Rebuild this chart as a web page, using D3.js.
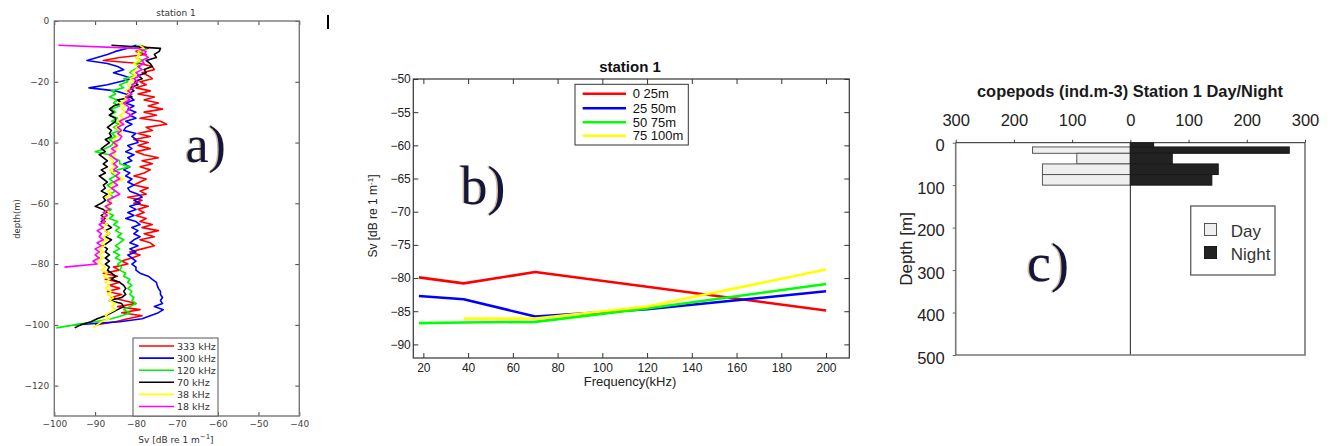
<!DOCTYPE html>
<html>
<head>
<meta charset="utf-8">
<script src="https://cdn.jsdelivr.net/npm/d3@7"></script>
<style>
  body { margin: 0; background: #fff; }
  svg { display: block; }
</style>
</head>
<body>
<svg id="fig" width="1332" height="446"></svg>
<script>
// ---------- a) Sv profiles by frequency (station 1) ----------
const depthA = [-8,-9,-10,-11,-12,-13,-14,-15,-16,-17,
  -18,-19,-20,-21,-22,-23,-24,-25,-26,-27,
  -28,-29,-30,-31,-32,-33,-34,-35,-36,-37,
  -38,-39,-40,-41,-42,-43,-44,-45,-46,-47,
  -48,-49,-50,-51,-52,-53,-54,-55,-56,-57,
  -58,-59,-60,-61,-62,-63,-64,-65,-66,-67,
  -68,-69,-70,-71,-72,-73,-74,-75,-76,-77,
  -78,-79,-80,-81,-82,-83,-84,-85,-86,-87,
  -88,-89,-90,-91,-92,-93,-94,-95,-96,-97,
  -98,-99,-100,-101];

const sv333 = [-79,-77,-80,-77.5,-84,-88,-79,-76,-75.5,-78.5,
  -77,-76,-79,-77.5,-80,-76.5,-79.5,-75.5,-78,-74.5,
  -77,-73.5,-78,-75,-79,-74,-72.5,-77.5,-76,-79.5,
  -76.5,-80.5,-77,-79.5,-76.5,-80,-78,-74.5,-78.5,-76,
  -79,-76.5,-78,-80.5,-77.5,-79,-80.5,-77,-79,-77.5,
  -82,-78.5,-80.5,-77,-79.5,-78,-80,-77.5,-79,-76,
  -78.5,-74.5,-78,-75.5,-79,-76.5,-75.5,-78.5,-81.5,-79,
  -81,-83.5,-82,-85.5,-84,-88,-84.5,-87.5,-84,-86.5,
  -84,-87,-83.5,-86,-83,-80,-84.5,-79,-83.5,-78.5,
  -82,-85,-90,null];

const sv300 = [-80,-82,-85,-87,-89.5,-92,-87,-84.5,-83,-85.5,
  -83,-81,-84,-87,-91.5,-85,-82.5,-81.5,-80.5,-82.5,
  -80.5,-82,-80,-81.5,-80,-82.5,-81,-82.5,-83,-80,
  -81,-80,-79.5,-82,-81,-82.5,-80.5,-82,-81,-83,
  -81.5,-83,-81.5,-82.5,-81,-82,-80.5,-82,-81.5,-79.5,
  -78.5,-80.5,-79,-81.5,-80,-82,-80.5,-82.5,-80,-79,
  -81,-79.5,-80.5,-79,-80.5,-81.5,-79.5,-81.5,-80,-82,
  -81,-80,-81,-80,-80,-79,-77,-76,-75,-74.8,
  -74.5,-74,-74,-73.5,-74,-73.5,-75.5,-73.3,-74.5,-76.5,
  -78.5,-84,-95,null];

const sv120 = [-80,-77.5,-78.5,-79,-80,-78.5,-80,-79,-80.5,-81.5,
  -80,-83,-82,-84,-83,-86,-85,-86.5,-84.5,-85.5,
  -84,-86,-85,-86.5,-84.5,-86,-84,-85.5,-84,-86,
  -85,-86.5,-85.5,-86,-87.5,-90,-86.5,-85.5,-84,-84,
  -81.5,-84.5,-86,-85,-86.5,-85.5,-87,-86,-85,-86.5,
  -85.5,-87,-86,-87.5,-86,-87,-85.5,-86.5,-84.5,-85.5,
  -84,-85,-83.5,-84.5,-83,-84,-85,-84,-85.5,-84,
  -85,-83.5,-84.5,-83.5,-84,-82.5,-83,-81.5,-82,-81,
  -82,-81,-81.5,-80.5,-81,-80,-81.5,-83,-81.5,-83.5,
  -86,-90,-95,-99.5];

const sv70 = [-86,-74,-74.3,-75.5,-75,-77.5,-76.5,-76,-78,-77.5,
  -79.5,-78.5,-80.5,-79.5,-81.5,-80.5,-82,-81,-84.5,-83.5,
  -85.5,-86.5,-85.5,-86.5,-85,-85,-86,-87,-86,-86.5,
  -86,-87.5,-86.5,-87.5,-88.5,-87.5,-89,-88,-87,-88,
  -87,-88.5,-87.5,-89,-88,-87,-88,-87.5,-88.5,-87,
  -88,-87.5,-88.5,-90,-88,-87,-88.5,-87.5,-88.5,-87,
  -86,-87.5,-86.5,-87.5,-86,-87,-88,-87,-87.5,-86.5,
  -87.5,-86.5,-87.5,-86.5,-87,-86,-85,-86,-84,-83,
  -82.5,-83,-82.5,-83.5,-86.5,-83.5,-83,-84.5,-86,-87.5,
  -89.5,-91,-93.5,-95];

const sv38 = [-79,-78,-79.5,-79,-80,-79,-80.5,-79.5,-80,-81,
  -80,-81.5,-80.5,-82,-81.5,-82.5,-81.5,-83,-82,-84,
  -82.5,-83.5,-82.5,-84,-83,-84.5,-83.5,-85,-84,-83.5,
  -84.5,-85.5,-84.5,-85.5,-84.5,-86,-85,-86.5,-85.5,-86,
  -85,-86.5,-85.5,-84.5,-83,-85,-86,-85.5,-87,-86,
  -87.5,-86,-87,-86.5,-87.5,-86.5,-88,-87,-88,-87,
  -88.5,-87.5,-86.5,-88,-87,-88.5,-87.5,-89,-88,-89,
  -88,-89.5,-88.5,-87.5,-88.5,-87,-88,-86.5,-87.5,-86.5,
  -87.5,-86,-87,-85.5,-86.5,-85,-86,-85,-86.5,-87.5,
  -86.5,-88.5,-89.5,-90.5];

const sv18 = [-99,-79.5,-77.5,-78,-77,-78.5,-78,-79.5,-78.5,-80,
  -79,-80.5,-79.5,-81,-80.5,-82,-81,-82.5,-81.5,-83,
  -82,-81.5,-82.5,-81,-82.5,-84,-83,-84.5,-83.5,-84.5,
  -83.5,-84,-85.5,-84.5,-86,-85,-86.5,-85.5,-84.5,-85.5,
  -84.5,-85.5,-84,-85,-84,-85.5,-84.5,-86,-85,-84,
  -85.5,-87,-86,-87.5,-86.5,-88,-87,-88.5,-87.5,-89,
  -88,-89.5,-88.5,-89,-88,-89.5,-88.5,-90,-89,-90,
  -89,-90.5,-89.5,-97.5,null,null,null,null,null,null,
  null,null,null,null,null,null,null,null,null,null,
  null,null,null,null];

const freqLabelsA = ['333 kHz','300 kHz','120 kHz','70 kHz','38 kHz','18 kHz'];
const svTicksA = [-100,-90,-80,-70,-60,-50,-40];
const depthTicksA = [-120,-100,-80,-60,-40,-20,0];

// ---------- b) mean Sv per depth layer vs frequency ----------
const freqB = [18, 38, 70, 120, 200];
const layer0_25 = [-79.9, -80.8, -79.1, -81.3, -84.9];
const layer25_50 = [-82.7, -83.2, -85.8, -84.7, -82.0];
const layer50_75 = [-86.8, -86.7, -86.6, -84.6, -80.9];
const layer75_100 = [null, -86.1, -86.1, -84.3, -78.7];
const layerLabelsB = ['0 25m', '25 50m', '50 75m', '75 100m'];
const freqTicksB = [20, 40, 60, 80, 100, 120, 140, 160, 180, 200];
const svTicksB = [-90, -85, -80, -75, -70, -65, -60, -55, -50];

// ---------- c) copepod abundance, day vs night ----------
const binTopC = [0, 10, 25, 50, 75];
const binBottomC = [10, 25, 50, 75, 100];
const dayC = [0, 168, 92, 151, 151];
const nightC = [40, 273, 72, 151, 140];
const abundTicksC = [-300, -200, -100, 0, 100, 200, 300];
const depthTicksC = [0, 100, 200, 300, 400, 500];

const svg = d3.select('#fig');
svg.append('rect').attr('width', 1332).attr('height', 446).attr('fill', '#fff');

function styleAxis(g, font, size, color) {
  g.select('.domain').remove();
  g.selectAll('text').attr('font-family', font).attr('font-size', size).attr('fill', color);
}

// ================= Panel a =================
{
  const x = d3.scaleLinear().domain([-100, -40]).range([54.3, 299.3]);
  const y = d3.scaleLinear().domain([0, -130]).range([21, 416]);
  const g = svg.append('g');
  const font = 'DejaVu Sans';

  g.append('clipPath').attr('id', 'clipA').append('rect')
    .attr('x', x(-100)).attr('y', y(0)).attr('width', x(-40) - x(-100)).attr('height', y(-130) - y(0));

  const series = [
    { label: freqLabelsA[0], color: '#ff0000', v: sv333 },
    { label: freqLabelsA[1], color: '#0000ff', v: sv300 },
    { label: freqLabelsA[2], color: '#00ee00', v: sv120 },
    { label: freqLabelsA[3], color: '#000000', v: sv70 },
    { label: freqLabelsA[4], color: '#ffff00', v: sv38 },
    { label: freqLabelsA[5], color: '#ff00ff', v: sv18 }
  ];
  const line = d3.line()
    .defined(d => d[0] != null)
    .x(d => x(d[0])).y(d => y(d[1]));

  const lines = g.append('g').attr('clip-path', 'url(#clipA)');
  series.forEach(s => {
    lines.append('path')
      .datum(s.v.map((v, i) => [v, depthA[i]]))
      .attr('d', line).attr('fill', 'none')
      .attr('stroke', s.color).attr('stroke-width', 1.6)
      .attr('stroke-linejoin', 'round');
  });

  // axes with inward ticks on all four sides
  const bx = g.append('g').attr('transform', `translate(0,${y(-130)})`)
    .call(d3.axisBottom(x).tickValues(svTicksA).tickSizeInner(-4).tickSizeOuter(0).tickPadding(5));
  styleAxis(bx, font, 9, '#444');
  const tx = g.append('g').attr('transform', `translate(0,${y(0)})`)
    .call(d3.axisTop(x).tickValues(svTicksA).tickSizeInner(-4).tickSizeOuter(0).tickFormat(''));
  styleAxis(tx, font, 9, '#444');
  const ly = g.append('g').attr('transform', `translate(${x(-100)},0)`)
    .call(d3.axisLeft(y).tickValues(depthTicksA).tickSizeInner(-4).tickSizeOuter(0).tickPadding(5));
  styleAxis(ly, font, 9, '#444');
  const ry = g.append('g').attr('transform', `translate(${x(-40)},0)`)
    .call(d3.axisRight(y).tickValues(depthTicksA).tickSizeInner(-4).tickSizeOuter(0).tickFormat(''));
  styleAxis(ry, font, 9, '#444');
  g.selectAll('.tick line').attr('stroke', '#444');

  g.append('rect').attr('x', x(-100)).attr('y', y(0))
    .attr('width', x(-40) - x(-100)).attr('height', y(-130) - y(0))
    .attr('fill', 'none').attr('stroke', '#777').attr('stroke-width', 1.4);

  g.append('text').attr('x', 176).attr('y', 16).attr('text-anchor', 'middle')
    .attr('font-family', font).attr('font-size', 9).attr('fill', '#333').text('station 1');

  const xl = g.append('text').attr('x', 176).attr('y', 443).attr('text-anchor', 'middle')
    .attr('font-family', font).attr('font-size', 9).attr('fill', '#333');
  xl.append('tspan').text('Sv [dB re 1 m');
  xl.append('tspan').attr('dy', -4).attr('font-size', 7).text('−1');
  xl.append('tspan').attr('dy', 4).text(']');

  g.append('text').attr('transform', 'translate(20,219) rotate(-90)').attr('text-anchor', 'middle')
    .attr('font-family', font).attr('font-size', 8.5).attr('fill', '#333').text('depth(m)');

  // legend
  const lg = g.append('g');
  lg.append('rect').attr('x', 133).attr('y', 338).attr('width', 85).attr('height', 78)
    .attr('fill', '#fff').attr('stroke', '#555').attr('stroke-width', 1);
  series.forEach((s, i) => {
    const yy = 346 + i * 12.1;
    lg.append('line').attr('x1', 139).attr('x2', 174).attr('y1', yy).attr('y2', yy)
      .attr('stroke', s.color).attr('stroke-width', 1.6);
    lg.append('text').attr('x', 177).attr('y', yy + 3.5)
      .attr('font-family', font).attr('font-size', 9.5).attr('fill', '#333').text(s.label);
  });

  g.append('text').attr('x', 184).attr('y', 162)
    .attr('font-family', 'Liberation Serif').attr('font-size', 52).attr('fill', '#a7763a').attr('opacity', 0.5).text('a)');
  g.append('text').attr('x', 185.5).attr('y', 162)
    .attr('font-family', 'Liberation Serif').attr('font-size', 52).attr('fill', '#14173a').text('a)');
}

// small mark between panels
svg.append('rect').attr('x', 327).attr('y', 15).attr('width', 2).attr('height', 14).attr('fill', '#000');

// ================= Panel b =================
{
  const x = d3.scaleLinear().domain([15.5, 210.4]).range([413.3, 849.3]);
  const y = d3.scaleLinear().domain([-92.05, -50]).range([358, 79]);
  const g = svg.append('g');
  const font = 'Liberation Sans';

  const layers = [
    { label: layerLabelsB[0], color: '#ff0000', v: layer0_25 },
    { label: layerLabelsB[1], color: '#0000ff', v: layer25_50 },
    { label: layerLabelsB[2], color: '#00ff00', v: layer50_75 },
    { label: layerLabelsB[3], color: '#ffff00', v: layer75_100 }
  ];
  const line = d3.line().defined(d => d[1] != null).x(d => x(d[0])).y(d => y(d[1]));
  layers.forEach(s => {
    g.append('path').datum(freqB.map((f, i) => [f, s.v[i]]))
      .attr('d', line).attr('fill', 'none').attr('stroke', s.color)
      .attr('stroke-width', 2.6).attr('stroke-linejoin', 'round');
  });

  const bx = g.append('g').attr('transform', `translate(0,${y.range()[0]})`)
    .call(d3.axisBottom(x).tickValues(freqTicksB).tickSizeInner(-5).tickSizeOuter(0).tickPadding(5));
  styleAxis(bx, font, 12, '#222');
  const tx = g.append('g').attr('transform', `translate(0,${y.range()[1]})`)
    .call(d3.axisTop(x).tickValues(freqTicksB).tickSizeInner(-5).tickSizeOuter(0).tickFormat(''));
  styleAxis(tx, font, 12, '#222');
  const ly = g.append('g').attr('transform', `translate(${x.range()[0]},0)`)
    .call(d3.axisLeft(y).tickValues(svTicksB).tickSizeInner(-5).tickSizeOuter(0).tickPadding(2.5));
  styleAxis(ly, font, 12, '#222');
  const ry = g.append('g').attr('transform', `translate(${x.range()[1]},0)`)
    .call(d3.axisRight(y).tickValues(svTicksB).tickSizeInner(-5).tickSizeOuter(0).tickFormat(''));
  styleAxis(ry, font, 12, '#222');
  g.selectAll('.tick line').attr('stroke', '#333');

  g.append('rect').attr('x', x.range()[0]).attr('y', y.range()[1])
    .attr('width', x.range()[1] - x.range()[0]).attr('height', y.range()[0] - y.range()[1])
    .attr('fill', 'none').attr('stroke', '#333').attr('stroke-width', 1.2);

  g.append('text').attr('x', 630).attr('y', 72).attr('text-anchor', 'middle')
    .attr('font-family', font).attr('font-weight', 'bold').attr('font-size', 15).attr('fill', '#111').text('station 1');
  g.append('text').attr('x', 630).attr('y', 386).attr('text-anchor', 'middle')
    .attr('font-family', font).attr('font-size', 13).attr('fill', '#222').text('Frequency(kHz)');

  const yl = g.append('text').attr('transform', 'translate(377,216) rotate(-90)').attr('text-anchor', 'middle')
    .attr('font-family', font).attr('font-size', 12).attr('fill', '#222');
  yl.append('tspan').text('Sv [dB re 1 m');
  yl.append('tspan').attr('dy', -4).attr('font-size', 8).text('-1');
  yl.append('tspan').attr('dy', 4).text(']');

  const lg = g.append('g');
  lg.append('rect').attr('x', 575).attr('y', 84.3).attr('width', 113.3).attr('height', 60.7)
    .attr('fill', '#fff').attr('stroke', '#333').attr('stroke-width', 1);
  const rows = [93.7, 108.3, 122.3, 135.7];
  layers.forEach((s, i) => {
    lg.append('line').attr('x1', 582.7).attr('x2', 626).attr('y1', rows[i]).attr('y2', rows[i])
      .attr('stroke', s.color).attr('stroke-width', 2.6);
    lg.append('text').attr('x', 632.7).attr('y', rows[i] + 4.5)
      .attr('font-family', font).attr('font-size', 13).attr('fill', '#111').text(s.label);
  });

  g.append('text').attr('x', 459).attr('y', 204)
    .attr('font-family', 'Liberation Serif').attr('font-size', 54).attr('fill', '#a7763a').attr('opacity', 0.5).text('b)');
  g.append('text').attr('x', 460.5).attr('y', 204)
    .attr('font-family', 'Liberation Serif').attr('font-size', 54).attr('fill', '#14173a').text('b)');
}

// ================= Panel c =================
{
  const x = d3.scaleLinear().domain([-300, 300]).range([955.7, 1305]);
  const y = d3.scaleLinear().domain([0, 500]).range([142.7, 355]);
  const g = svg.append('g');
  const font = 'Liberation Sans';

  // day bars to the left, night bars to the right
  g.selectAll('rect.day').data(dayC).join('rect').attr('class', 'day')
    .attr('x', d => x(-d)).attr('width', d => x(0) - x(-d))
    .attr('y', (d, i) => y(binTopC[i])).attr('height', (d, i) => y(binBottomC[i]) - y(binTopC[i]))
    .attr('fill', '#efefef').attr('stroke', '#555').attr('stroke-width', 1);
  g.selectAll('rect.night').data(nightC).join('rect').attr('class', 'night')
    .attr('x', x(0)).attr('width', d => x(d) - x(0))
    .attr('y', (d, i) => y(binTopC[i])).attr('height', (d, i) => y(binBottomC[i]) - y(binTopC[i]))
    .attr('fill', '#222').attr('stroke', '#1a1a1a').attr('stroke-width', 1);

  g.append('line').attr('x1', x(0)).attr('x2', x(0)).attr('y1', y(0)).attr('y2', y(500))
    .attr('stroke', '#222').attr('stroke-width', 1);

  // frame
  g.append('path')
    .attr('d', `M${x(-300)},${y(0)}V${y(500)}H${x(300)}V${y(0)}`)
    .attr('fill', 'none').attr('stroke', '#777').attr('stroke-width', 1.6);

  const tx = g.append('g').attr('transform', `translate(0,${y(0)})`)
    .call(d3.axisTop(x).tickValues(abundTicksC).tickSizeInner(3).tickSizeOuter(0).tickPadding(14)
      .tickFormat(d => Math.abs(d)));
  tx.select('.domain').attr('stroke', '#222');
  tx.selectAll('text').attr('font-family', font).attr('font-size', 16.5).attr('fill', '#222');
  tx.selectAll('.tick line').attr('stroke', '#444');
  tx.select('.domain').remove();
  g.append('line').attr('x1', x(-300)).attr('x2', x(300)).attr('y1', y(0)).attr('y2', y(0))
    .attr('stroke', '#222').attr('stroke-width', 1);

  const ly = g.append('g').attr('transform', `translate(${x(-300)},0)`)
    .call(d3.axisLeft(y).tickValues(depthTicksC).tickSizeInner(3).tickSizeOuter(0).tickPadding(8));
  styleAxis(ly, font, 16.5, '#222');
  ly.selectAll('text').attr('y', 3);
  ly.selectAll('.tick line').attr('stroke', '#666');

  g.append('text')
    .attr('x', 1130).attr('y', 97).attr('text-anchor', 'middle')
    .attr('font-family', font).attr('font-weight', 'bold').attr('font-size', 16)
    .attr('textLength', 306).attr('lengthAdjust', 'spacingAndGlyphs')
    .attr('fill', '#1a1a1a').text('copepods (ind.m-3) Station 1 Day/Night');

  g.append('text').attr('transform', 'translate(912,249) rotate(-90)').attr('text-anchor', 'middle')
    .attr('font-family', font).attr('font-size', 17).attr('fill', '#222').text('Depth [m]');

  const lg = g.append('g');
  lg.append('rect').attr('x', 1190.7).attr('y', 206).attr('width', 84.3).attr('height', 69)
    .attr('fill', '#fff').attr('stroke', '#666').attr('stroke-width', 1.4);
  lg.append('rect').attr('x', 1204.5).attr('y', 223.5).attr('width', 12).attr('height', 12)
    .attr('fill', '#efefef').attr('stroke', '#555').attr('stroke-width', 1);
  lg.append('rect').attr('x', 1204.5).attr('y', 246.5).attr('width', 12).attr('height', 12)
    .attr('fill', '#222').attr('stroke', '#1a1a1a').attr('stroke-width', 1);
  lg.append('text').attr('x', 1230.7).attr('y', 237).attr('font-family', font)
    .attr('font-size', 17).attr('fill', '#333').text('Day');
  lg.append('text').attr('x', 1230.7).attr('y', 260).attr('font-family', font)
    .attr('font-size', 17).attr('fill', '#333').text('Night');

  g.append('text').attr('x', 1025.5).attr('y', 281)
    .attr('font-family', 'Liberation Serif').attr('font-size', 54).attr('fill', '#a7763a').attr('opacity', 0.5).text('c)');
  g.append('text').attr('x', 1027).attr('y', 281)
    .attr('font-family', 'Liberation Serif').attr('font-size', 54).attr('fill', '#14173a').text('c)');
}
</script>
</body>
</html>
